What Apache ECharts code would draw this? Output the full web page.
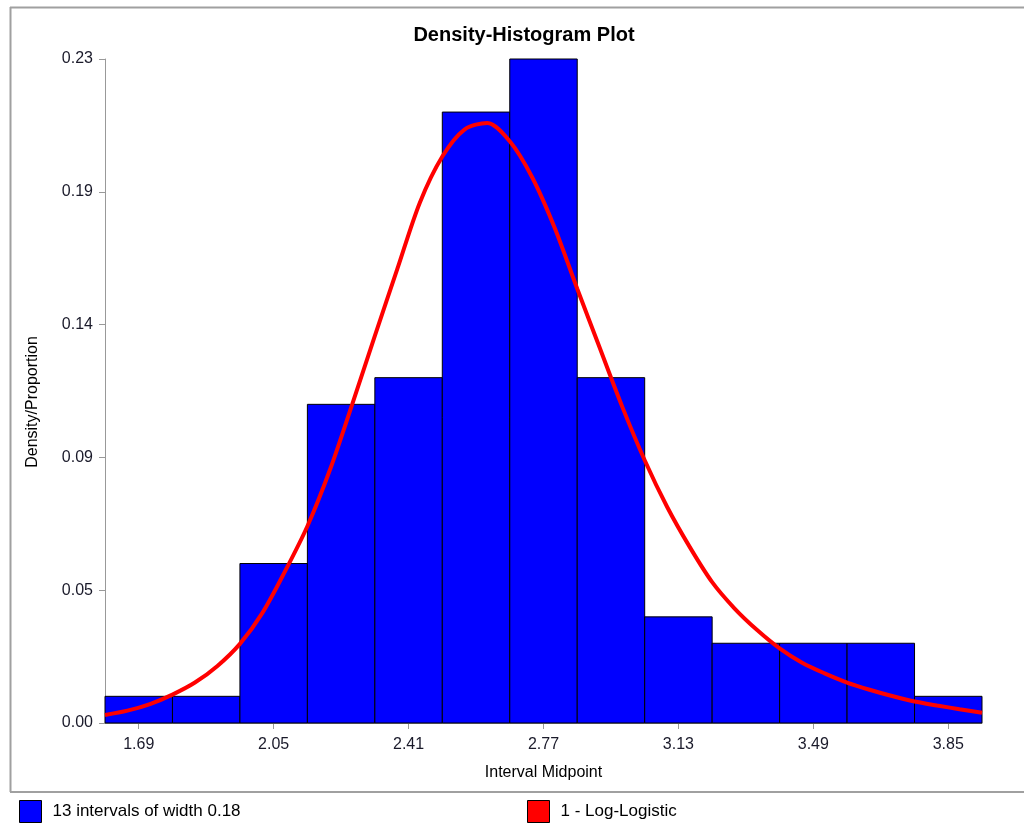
<!DOCTYPE html>
<html><head><meta charset="utf-8">
<script src="https://cdn.jsdelivr.net/npm/echarts@6/dist/echarts.min.js"></script>
<style>html,body{margin:0;padding:0;background:#fff}#c{width:1024px;height:823px}</style>
</head><body><div id="c"></div>
<script>
// Histogram data (interval midpoints, proportions)
const midpoints = [1.69, 1.87, 2.05, 2.23, 2.41, 2.59, 2.77, 2.95, 3.13, 3.31, 3.49, 3.67, 3.85];
const proportions = [0.0093, 0.0093, 0.0556, 0.1111, 0.1204, 0.2130, 0.2315, 0.1204, 0.0370, 0.0278, 0.0278, 0.0278, 0.0093];
const binWidth = 0.18;
// Fitted Log-Logistic curve
const curveX = [1.60, 1.66, 1.72, 1.78, 1.84, 1.90, 1.96, 2.02, 2.08, 2.14, 2.20, 2.26, 2.32, 2.38, 2.44, 2.50, 2.56, 2.62, 2.68, 2.74, 2.80, 2.86, 2.92, 2.98, 3.04, 3.10, 3.16, 3.22, 3.28, 3.34, 3.40, 3.46, 3.52, 3.58, 3.64, 3.70, 3.76, 3.82, 3.88, 3.94];
const curveY = [0.0028, 0.0043, 0.0066, 0.0099, 0.0141, 0.0199, 0.0276, 0.0384, 0.0528, 0.0686, 0.0882, 0.1113, 0.1350, 0.1583, 0.1814, 0.1975, 0.2070, 0.2092, 0.2028, 0.1902, 0.1726, 0.1514, 0.1308, 0.1103, 0.0916, 0.0753, 0.0614, 0.0491, 0.0399, 0.0324, 0.0260, 0.0210, 0.0173, 0.0141, 0.0116, 0.0094, 0.0075, 0.0061, 0.0048, 0.0036];
// Axis ticks
const xTicks = [1.69, 2.05, 2.41, 2.77, 3.13, 3.49, 3.85];
const yTicks = [0, 0.0463, 0.0926, 0.1389, 0.1852, 0.2315];
const xMin = 1.60, xMax = 3.94;

const titleText = 'Density-Histogram Plot';
const xName = 'Interval Midpoint';
const yName = 'Density/Proportion';
const barName = '13 intervals of width 0.18';
const curveName = '1 - Log-Logistic';

const FONT = '"Liberation Sans", Arial, sans-serif';
const chart = echarts.init(document.getElementById('c'), null, {renderer: 'canvas'});

const barData = midpoints.map((m, i) => [m, proportions[i]]);
const curveData = curveX.map((x, i) => [x, curveY[i]]);

chart.setOption({
  animation: false,
  backgroundColor: '#fff',
  textStyle: {fontFamily: FONT},
  title: {
    text: titleText, left: 519, top: 20, textAlign: 'center',
    textStyle: {fontFamily: FONT, fontSize: 20, fontWeight: 'bold', color: '#000'}
  },
  grid: {left: 105, right: 42, top: 59, bottom: 100, containLabel: false},
  xAxis: {
    type: 'value', min: xMin, max: xMax,
    name: xName, nameLocation: 'middle', nameGap: 42,
    nameTextStyle: {fontFamily: FONT, fontSize: 16, color: '#000'},
    axisLine: {show: true, lineStyle: {color: '#999', width: 1}},
    axisTick: {show: true, length: 6, lineStyle: {color: '#999'}, customValues: xTicks},
    axisLabel: {customValues: xTicks, margin: 14, fontFamily: FONT, fontSize: 16, color: '#1a1a2a',
      formatter: v => v.toFixed(2)},
    splitLine: {show: false}
  },
  yAxis: {
    type: 'value', min: 0, max: yTicks[yTicks.length - 1],
    axisLine: {show: true, lineStyle: {color: '#999', width: 1}},
    axisTick: {show: true, length: 6, lineStyle: {color: '#999'}, customValues: yTicks},
    axisLabel: {customValues: yTicks, margin: 12, fontFamily: FONT, fontSize: 16, color: '#1a1a2a',
      formatter: v => v.toFixed(2)},
    splitLine: {show: false}
  },
  legend: [
    {data: [barName], left: 19, top: 800, padding: 0, icon: 'rect', itemWidth: 22, itemHeight: 22,
     itemStyle: {borderColor: '#000', borderWidth: 1},
     textStyle: {fontFamily: FONT, fontSize: 17, color: '#000', padding: [0, 0, 0, 6]}},
    {data: [curveName], left: 527, top: 800, padding: 0, icon: 'rect', itemWidth: 22, itemHeight: 22,
     itemStyle: {borderColor: '#000', borderWidth: 1},
     textStyle: {fontFamily: FONT, fontSize: 17, color: '#000', padding: [0, 0, 0, 6]}}
  ],
  graphic: [
    {type: 'line', shape: {x1: 10, y1: 7.5, x2: 1024, y2: 7.5}, style: {stroke: '#a0a0a0', lineWidth: 2}, silent: true},
    {type: 'line', shape: {x1: 10.5, y1: 7, x2: 10.5, y2: 792}, style: {stroke: '#a0a0a0', lineWidth: 2}, silent: true},
    {type: 'line', shape: {x1: 10, y1: 792, x2: 1024, y2: 792}, style: {stroke: '#a0a0a0', lineWidth: 2}, silent: true},
    {type: 'text', x: 33, y: 402, rotation: Math.PI / 2,
     style: {text: yName, fontFamily: FONT, fontSize: 16, fill: '#000', align: 'center', verticalAlign: 'middle'}}
  ],
  series: [
    {
      name: barName, type: 'custom', z: 2,
      itemStyle: {color: '#0000FF', borderColor: '#000', borderWidth: 1},
      renderItem: (params, api) => {
        const m = api.value(0), v = api.value(1);
        const p0 = api.coord([m - binWidth / 2, v]);
        const p1 = api.coord([m + binWidth / 2, 0]);
        return {
          type: 'rect',
          shape: {x: p0[0], y: p0[1], width: p1[0] - p0[0], height: p1[1] - p0[1]},
          style: {fill: '#0000FF', stroke: '#000', lineWidth: 1}
        };
      },
      data: barData
    },
    {
      name: curveName, type: 'line', z: 5, smooth: 0.3, symbol: 'none',
      itemStyle: {color: '#FF0000', borderColor: '#000', borderWidth: 1},
      lineStyle: {color: '#FF0000', width: 4},
      data: curveData
    }
  ]
});
</script></body></html>
